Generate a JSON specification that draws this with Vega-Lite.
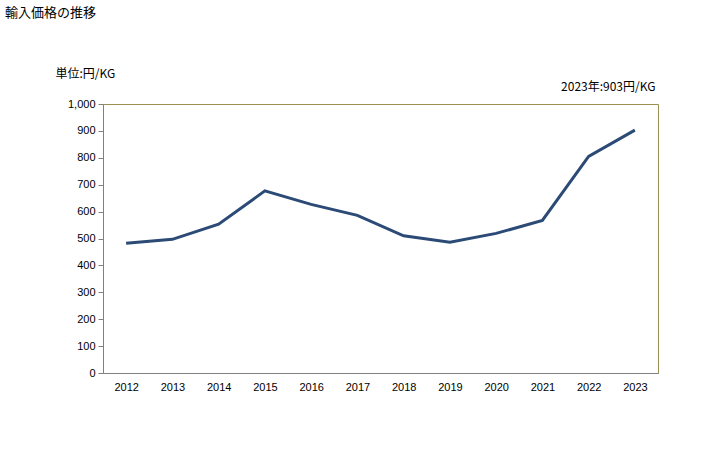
{
  "$schema": "https://vega.github.io/schema/vega-lite/v6.json",
  "width": 555,
  "height": 269,
  "autosize": "none",
  "padding": {"left": 103, "top": 104, "right": 70, "bottom": 77},
  "background": "white",
  "title": {
    "text": "輸入価格の推移",
    "anchor": "start",
    "frame": "group",
    "dx": -98,
    "dy": -43,
    "fontSize": 13,
    "fontWeight": "normal",
    "font": "Noto Sans CJK JP",
    "color": "#000000"
  },
  "config": {
    "view": {"stroke": "#9a8f50", "strokeWidth": 1},
    "font": "Liberation Sans"
  },
  "data": {
    "values": [
      {"year": "2012", "value": 482},
      {"year": "2013", "value": 497},
      {"year": "2014", "value": 553},
      {"year": "2015", "value": 677},
      {"year": "2016", "value": 627},
      {"year": "2017", "value": 586},
      {"year": "2018", "value": 510},
      {"year": "2019", "value": 486},
      {"year": "2020", "value": 519},
      {"year": "2021", "value": 567},
      {"year": "2022", "value": 805},
      {"year": "2023", "value": 903}
    ]
  },
  "resolve": {"axis": {"x": "independent"}},
  "encoding": {
    "y": {
      "field": "value",
      "type": "quantitative",
      "scale": {"domain": [0, 1000]},
      "axis": {
        "values": [0, 100, 200, 300, 400, 500, 600, 700, 800, 900, 1000],
        "format": ",d",
        "labelFontSize": 11,
        "labelColor": "#000000",
        "labelPadding": 3,
        "labelOverlap": false,
        "labelFlush": false,
        "tickSize": 5,
        "tickColor": "#808080",
        "domainColor": "#808080",
        "grid": false,
        "title": "単位:円/KG",
        "titleFont": "Noto Sans CJK JP",
        "titleFontSize": 12,
        "titleFontWeight": "normal",
        "titleColor": "#000000",
        "titleAngle": 0,
        "titleAlign": "left",
        "titleBaseline": "middle",
        "titleX": -48,
        "titleY": -31
      }
    }
  },
  "layer": [
    {
      "mark": {"type": "line", "color": "#2b4a76", "strokeWidth": 3},
      "encoding": {
        "x": {
          "field": "year",
          "type": "ordinal",
          "scale": {"type": "point", "padding": 0.5},
          "axis": {
            "labelAngle": 0,
            "labelFontSize": 11,
            "labelColor": "#000000",
            "labelPadding": 8,
            "labelOverlap": false,
            "ticks": false,
            "domainColor": "#808080",
            "grid": false,
            "title": null
          }
        }
      }
    },
    {
      "mark": {"type": "point", "opacity": 0},
      "encoding": {
        "x": {
          "field": "year",
          "type": "ordinal",
          "axis": {
            "orient": "top",
            "labels": false,
            "ticks": false,
            "domain": false,
            "grid": false,
            "title": "2023年:903円/KG",
            "titleFont": "Noto Sans CJK JP",
            "titleFontSize": 12,
            "titleFontWeight": "normal",
            "titleColor": "#000000",
            "titleAlign": "right",
            "titleBaseline": "middle",
            "titleX": 552,
            "titleY": -18
          }
        }
      }
    }
  ]
}
